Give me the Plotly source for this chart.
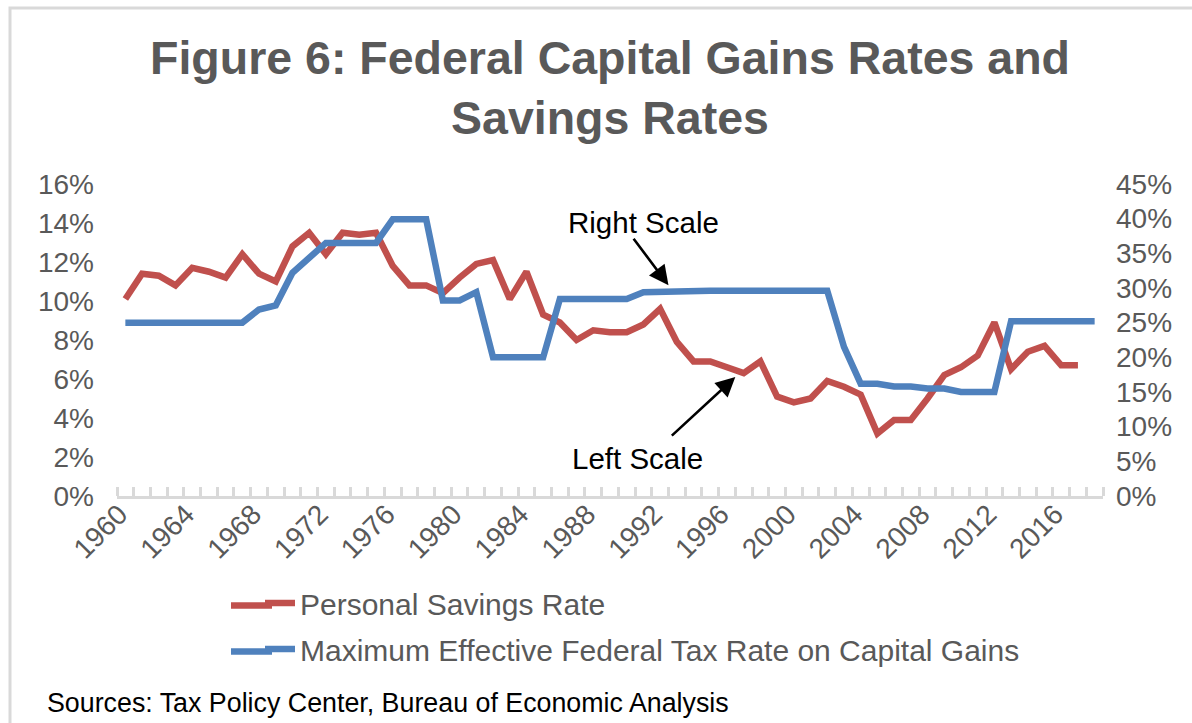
import plotly.graph_objects as go

years = list(range(1960, 2019))

savings_rate = [
    10.1, 11.4, 11.3, 10.8, 11.7, 11.5, 11.2, 12.4, 11.4, 11.0,
    12.8, 13.5, 12.4, 13.5, 13.4, 13.5, 11.8, 10.8, 10.8, 10.4,
    11.2, 11.9, 12.1, 10.1, 11.5, 9.3, 8.9, 8.0, 8.5, 8.4,
    8.4, 8.8, 9.6, 7.9, 6.9, 6.9, 6.6, 6.3, 6.9, 5.1,
    4.8, 5.0, 5.9, 5.6, 5.2, 3.2, 3.9, 3.9, 5.0, 6.2,
    6.6, 7.2, 8.9, 6.5, 7.4, 7.7, 6.7, 6.7, None,
]

cap_gains_rate = [
    25.0, 25.0, 25.0, 25.0, 25.0, 25.0, 25.0, 25.0, 26.9, 27.5,
    32.2, 34.3, 36.5, 36.5, 36.5, 36.5, 39.9, 39.9, 39.9, 28.2,
    28.2, 29.4, 20.0, 20.0, 20.0, 20.0, 28.4, 28.4, 28.4, 28.4,
    28.4, 29.4, 29.5, 29.6, 29.6, 29.6, 29.6, 29.6, 29.6, 29.6,
    29.6, 29.6, 29.6, 21.5, 16.2, 16.2, 15.8, 15.8, 15.5, 15.5,
    15.0, 15.0, 15.0, 25.2, 25.2, 25.2, 25.2, 25.2, 25.2,
]

left_ticks = [0, 2, 4, 6, 8, 10, 12, 14, 16]
right_ticks = [0, 5, 10, 15, 20, 25, 30, 35, 40, 45]

RED = "#C0504D"
BLUE = "#4F81BD"
GRAY_TXT = "#595959"
GRAY_LINE = "#D9D9D9"
FONT = "Liberation Sans, Arial, sans-serif"

fig = go.Figure()
fig.add_trace(go.Scatter(
    x=years, y=[None if v is None else v / 100 for v in savings_rate],
    mode="lines", name="Personal Savings Rate",
    line=dict(color=RED, width=6.5), legendgroup="a",
))
fig.add_trace(go.Scatter(
    x=years, y=[v / 100 for v in cap_gains_rate],
    mode="lines", name="Maximum Effective Federal Tax Rate on Capital Gains",
    line=dict(color=BLUE, width=6.5), yaxis="y2", legendgroup="b",
))

W, H = 1192, 723
L, R, T, B = 117, 89, 184, 227
pw, ph = W - L - R, H - T - B

def px_x(x):
    return (x - L) / pw

def px_y(y):
    return (H - B - y) / ph

fig.update_layout(
    width=W, height=H,
    margin=dict(l=L, r=R, t=T, b=B, autoexpand=False),
    paper_bgcolor="white", plot_bgcolor="white",
    font=dict(family=FONT, color=GRAY_TXT),
    title=dict(
        text="Figure 6: Federal Capital Gains Rates and<br>Savings Rates",
        font=dict(size=46.5, color=GRAY_TXT, family=FONT, weight="bold"),
        x=0.5, xref="paper", xanchor="center",
        y=1 - 74 / H, yref="container", yanchor="top",
    ),
    xaxis=dict(
        range=[1959.5, 2018.5],
        tickmode="linear", tick0=1960, dtick=4,
        tickangle=-45, ticks="",
        tickfont=dict(size=28, color=GRAY_TXT),
        ticklabelstandoff=-12, ticklabelshift=-6,
        showline=True, linecolor=GRAY_LINE, linewidth=2.5,
        showgrid=False, zeroline=False, automargin=False,
        minor=dict(ticks="inside", tick0=1959.5, dtick=1, ticklen=9,
                   tickwidth=2.5, tickcolor=GRAY_LINE, showgrid=False),
    ),
    yaxis=dict(
        range=[0, 0.16], tickmode="array",
        tickvals=[v / 100 for v in left_ticks],
        ticktext=[f"{v}%" for v in left_ticks],
        tickfont=dict(size=28, color=GRAY_TXT),
        showgrid=False, zeroline=False, showline=False, ticks="",
        ticklabelstandoff=22, automargin=False,
    ),
    yaxis2=dict(
        range=[0, 0.45], tickmode="array",
        tickvals=[v / 100 for v in right_ticks],
        ticktext=[f"{v}%" for v in right_ticks],
        tickfont=dict(size=28, color=GRAY_TXT),
        overlaying="y", side="right",
        showgrid=False, zeroline=False, showline=False, ticks="",
        ticklabelstandoff=12, automargin=False,
    ),
    showlegend=True,
    legend=dict(
        orientation="v", x=px_x(260), y=px_y(577),
        xanchor="left", yanchor="top",
        font=dict(size=30, color=GRAY_TXT),
        tracegroupgap=4, bgcolor="rgba(0,0,0,0)",
    ),
)

# chart-area frame
fig.add_shape(type="rect", xref="paper", yref="paper",
              x0=px_x(10), x1=px_x(W + 20), y0=px_y(H + 20), y1=px_y(8),
              line=dict(color=GRAY_LINE, width=3), fillcolor="rgba(0,0,0,0)",
              layer="below")

# longer legend keys, as in the original legend
for color, ly in ((RED, 605.5), (BLUE, 651.5)):
    fig.add_shape(type="line", xref="paper", yref="paper",
                  x0=px_x(231), x1=px_x(272), y0=px_y(ly), y1=px_y(ly),
                  line=dict(color=color, width=6.5), layer="above")

# scale callouts
fig.add_annotation(text="Right Scale", xref="paper", yref="paper",
                   x=px_x(643), y=px_y(222), xanchor="center", yanchor="middle",
                   showarrow=False, font=dict(size=29.5, color="black"))
fig.add_annotation(text="", x=1992.5, y=0.304, xref="x", yref="y2",
                   ax=-36, ay=-48, showarrow=True, arrowhead=2,
                   arrowsize=1.5, arrowwidth=2.6, arrowcolor="black")
fig.add_annotation(text="Left Scale", xref="paper", yref="paper",
                   x=px_x(637), y=px_y(458), xanchor="center", yanchor="middle",
                   showarrow=False, font=dict(size=29.5, color="black"))
fig.add_annotation(text="", x=1996.5, y=0.061, xref="x", yref="y",
                   ax=-65, ay=60, showarrow=True, arrowhead=2,
                   arrowsize=1.5, arrowwidth=2.6, arrowcolor="black")

fig.add_annotation(text="Sources: Tax Policy Center, Bureau of Economic Analysis",
                   xref="paper", yref="paper", x=px_x(45), y=px_y(703),
                   xanchor="left", yanchor="middle", showarrow=False,
                   font=dict(size=26.8, color="black"))

fig.write_html(
    "out.html",
    config={"displayModeBar": False},
    post_script="document.body.style.margin='0';document.body.style.overflow='hidden';",
)
